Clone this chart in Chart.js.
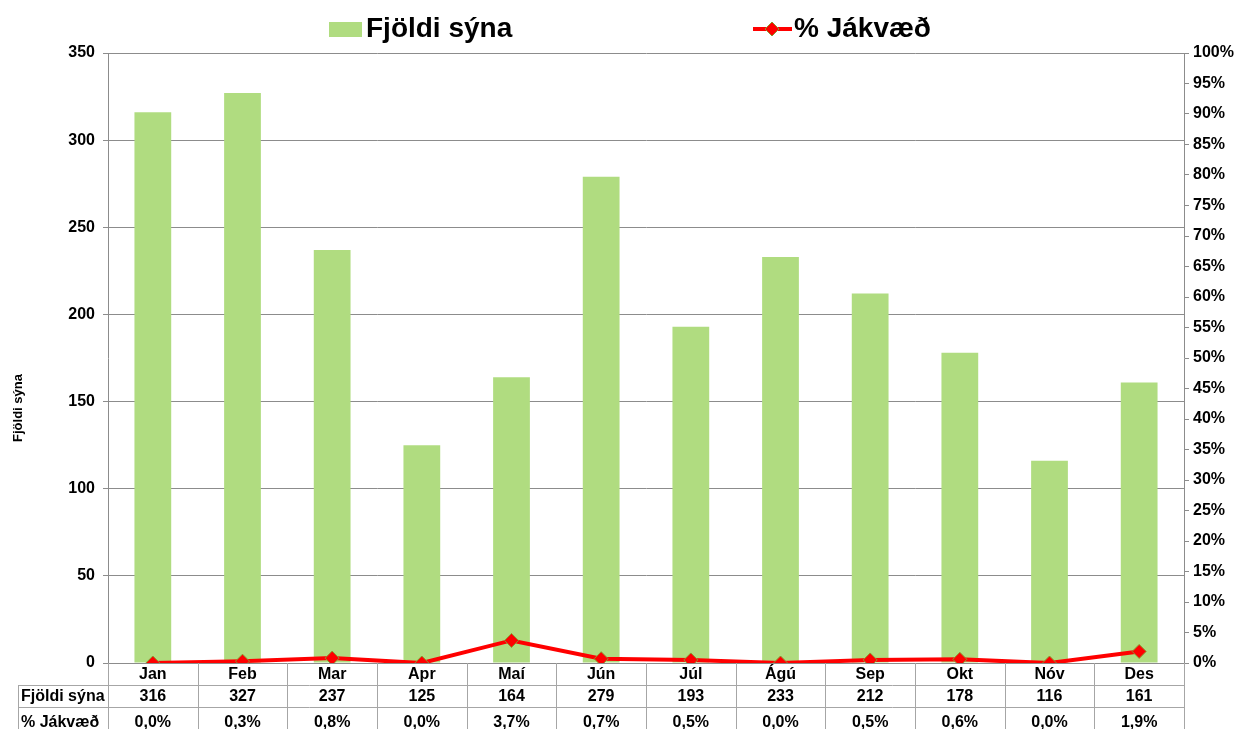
<!DOCTYPE html>
<html>
<head>
<meta charset="utf-8">
<script src="https://cdn.jsdelivr.net/npm/chart.js@4/dist/chart.umd.min.js"></script>
<style>
  html, body { margin: 0; padding: 0; background: #fff; }
  #wrap { width: 1240px; height: 729px; }
</style>
</head>
<body>
<div id="wrap"><canvas id="myChart" width="1240" height="729"></canvas></div>
<script>
// data
const manudir = ['Jan', 'Feb', 'Mar', 'Apr', 'Maí', 'Jún', 'Júl', 'Ágú', 'Sep', 'Okt', 'Nóv', 'Des'];
const fjoldiSyna = [316, 327, 237, 125, 164, 279, 193, 233, 212, 178, 116, 161];
const jakvaed = [0.0, 0.3, 0.8, 0.0, 3.7, 0.7, 0.5, 0.0, 0.5, 0.6, 0.0, 1.9];

const FONT = '"Liberation Sans", Arial, sans-serif';
const gridGrey = '#8c8c8c';
const tableGrey = '#a6a6a6';
const barGreen = '#b0dc80';

function pct(v) {
  return v.toFixed(1).replace('.', ',') + '%';
}

// legend, axis title and the data table under the chart
const extras = {
  id: 'extras',
  afterDraw(chart) {
    const ctx = chart.ctx;
    const area = chart.chartArea;
    const x = chart.scales.x;
    const step = (area.right - area.left) / manudir.length;
    ctx.save();

    // legend
    ctx.fillStyle = barGreen;
    ctx.fillRect(329, 22, 33, 15);
    ctx.font = 'bold 28px ' + FONT;
    ctx.fillStyle = '#000';
    ctx.textBaseline = 'middle';
    ctx.textAlign = 'left';
    ctx.fillText(chart.data.datasets[0].label, 366, 29);
    ctx.strokeStyle = 'red';
    ctx.lineWidth = 4;
    ctx.beginPath();
    ctx.moveTo(753, 29);
    ctx.lineTo(792, 29);
    ctx.stroke();
    ctx.fillStyle = 'red';
    ctx.strokeStyle = '#8a9a30';
    ctx.lineWidth = 1;
    ctx.beginPath();
    ctx.moveTo(772, 22); ctx.lineTo(779, 29); ctx.lineTo(772, 36); ctx.lineTo(765, 29);
    ctx.closePath();
    ctx.fill();
    ctx.stroke();
    ctx.fillStyle = '#000';
    ctx.fillText(chart.data.datasets[1].label, 794, 29);

    // left axis title
    ctx.save();
    ctx.translate(18, 408);
    ctx.rotate(-Math.PI / 2);
    ctx.font = 'bold 13px ' + FONT;
    ctx.textAlign = 'center';
    ctx.fillText('Fjöldi sýna', 0, 0);
    ctx.restore();

    // table lines
    const top = area.bottom;
    const r1 = top + 22, r2 = top + 44, bot = 729;
    ctx.strokeStyle = tableGrey;
    ctx.lineWidth = 1;
    ctx.beginPath();
    for (let i = 0; i <= manudir.length; i++) {
      const xx = Math.round(area.left + i * step) + 0.5;
      ctx.moveTo(xx, top);
      ctx.lineTo(xx, bot);
    }
    ctx.moveTo(18.5, r1); ctx.lineTo(18.5, bot);
    ctx.moveTo(18, r1 + 0.5); ctx.lineTo(area.right, r1 + 0.5);
    ctx.moveTo(18, r2 + 0.5); ctx.lineTo(area.right, r2 + 0.5);
    ctx.stroke();

    // table text
    ctx.font = 'bold 16px ' + FONT;
    ctx.fillStyle = '#000';
    ctx.textAlign = 'left';
    ctx.fillText(chart.data.datasets[0].label, 21, r1 + 12);
    ctx.fillText(chart.data.datasets[1].label, 21, r2 + 16);
    ctx.textAlign = 'center';
    manudir.forEach((m, i) => {
      const cx = x.getPixelForValue(i);
      ctx.fillText(m, cx, top + 12);
      ctx.fillText(String(fjoldiSyna[i]), cx, r1 + 12);
      ctx.fillText(pct(jakvaed[i]), cx, r2 + 16);
    });
    ctx.restore();
  }
};

const ctx2 = document.getElementById('myChart');
const chart = new Chart(ctx2, {
  type: 'bar',
  data: {
    labels: manudir,
    datasets: [{
      label: 'Fjöldi sýna',
      data: fjoldiSyna,
      backgroundColor: barGreen,
      barPercentage: 0.41,
      categoryPercentage: 1,
      yAxisID: 'y',
      order: 1
    }, {
      type: 'line',
      label: '% Jákvæð',
      data: jakvaed,
      borderColor: 'red',
      borderWidth: 4,
      pointStyle: 'rectRot',
      pointRadius: 7,
      pointBackgroundColor: 'red',
      pointBorderColor: '#8a9a30',
      pointBorderWidth: 1,
      tension: 0,
      yAxisID: 'y1',
      order: 0
    }]
  },
  options: {
    responsive: false,
    animation: false,
    layout: { padding: { top: 53, bottom: 0, left: 0, right: 0 } },
    plugins: {
      legend: { display: false },
      tooltip: { enabled: false }
    },
    scales: {
      x: {
        ticks: { display: false },
        grid: { display: false },
        border: { display: false },
        afterFit: s => { s.height = 66; }
      },
      y: {
        position: 'left',
        min: 0,
        max: 350,
        ticks: {
          stepSize: 50,
          color: '#000',
          font: { family: FONT, size: 16, weight: 'bold' },
          padding: 8
        },
        grid: { color: gridGrey, tickLength: 5 },
        border: { color: gridGrey },
        afterFit: s => { s.width = 108; }
      },
      y1: {
        position: 'right',
        min: 0,
        max: 100,
        ticks: {
          stepSize: 5,
          color: '#000',
          font: { family: FONT, size: 16, weight: 'bold' },
          padding: 4,
          callback: v => v + '%'
        },
        grid: { drawOnChartArea: false, color: gridGrey, tickLength: 5 },
        border: { color: gridGrey },
        afterFit: s => { s.width = 56; }
      }
    }
  },
  plugins: [extras]
});
</script>
</body>
</html>
